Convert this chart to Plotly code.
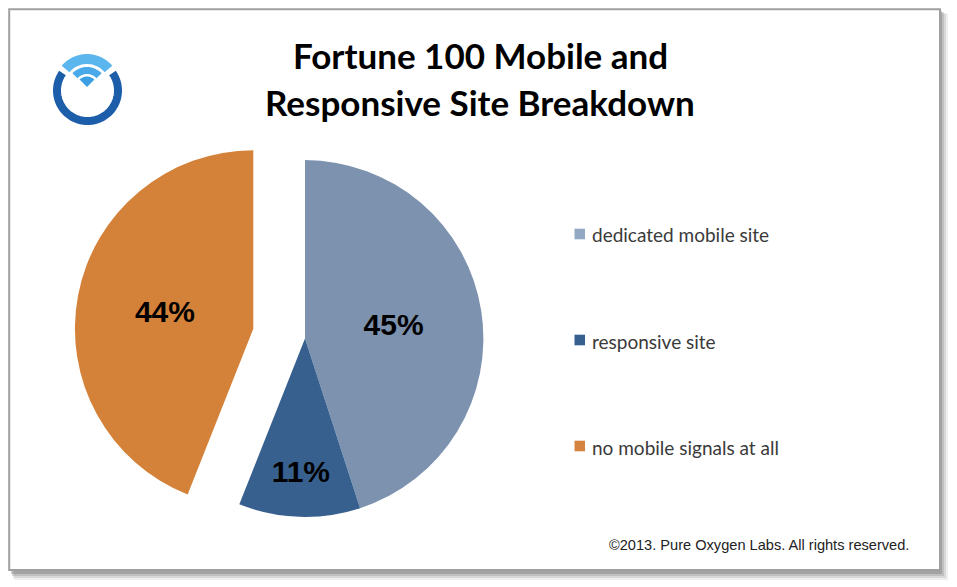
import math
import plotly.graph_objects as go

# ---- data ----
labels = ["dedicated mobile site", "responsive site", "no mobile signals at all"]
values = [45, 11, 44]
pulls = [0, 0, 0.295]
slice_colors = ["#7c92ae", "#37608f", "#d4823a"]
legend_colors = ["#93a8c3", "#37608f", "#d4843f"]
title_lines = ["Fortune 100 Mobile and", "Responsive Site Breakdown"]
copyright_text = "©2013. Pure Oxygen Labs. All rights reserved."

W, H = 957, 587
OFF = 8  # page body margin offset


def px(x):
    return (x - OFF) / W


def py(y):
    return 1 - (y - OFF) / H


def P(x, y):
    return f"{px(x):.5f},{py(y):.5f}"


fig = go.Figure()
fig.add_trace(go.Pie(
    labels=labels, values=values, pull=pulls, sort=False,
    direction="clockwise", rotation=0,
    marker=dict(colors=slice_colors, line=dict(width=0)),
    texttemplate="%{percent:.0%}", textposition="inside",
    insidetextorientation="horizontal",
    textfont=dict(family="Liberation Sans", size=30, color="#000000", weight="bold"),
    domain=dict(x=[px(74), px(536)], y=[py(569.5), py(107.5)]),
    showlegend=False, hoverinfo="label+percent",
))

shapes = []
# frame shadow
for i, op in enumerate([0.10, 0.14, 0.2, 0.28]):
    d = 8 - i * 2
    shapes.append(dict(type="rect", xref="paper", yref="paper",
                       x0=px(10 + d * 0.5), x1=px(940 + d), y0=py(572 + d), y1=py(10 + d * 0.5),
                       line=dict(width=0), fillcolor=f"rgba(90,90,90,{op})", layer="below"))
shapes.append(dict(type="rect", xref="paper", yref="paper",
                   x0=px(9.2), x1=px(940), y0=py(570), y1=py(9.2),
                   line=dict(width=2, color="#a0a0a0"), fillcolor="white", layer="below"))

# logo ring
cx, cy, r = 87.5, 90.5, 30.5
pts = []
for k in range(0, 121):
    a = math.radians(55 + (305 - 55) * k / 120)
    pts.append(P(cx + r * math.sin(a), cy - r * math.cos(a)))
shapes.append(dict(type="path", xref="paper", yref="paper",
                   path="M" + " L".join(pts), line=dict(width=8, color="#1d5eab")))


def band(ax, ay, r0, r1, ang, color):
    pts = []
    n = 30
    for k in range(n + 1):
        a = math.radians(-ang + 2 * ang * k / n)
        pts.append(P(ax + r1 * math.sin(a), ay - r1 * math.cos(a)))
    for k in range(n + 1):
        a = math.radians(ang - 2 * ang * k / n)
        pts.append(P(ax + r0 * math.sin(a), ay - r0 * math.cos(a)))
    return dict(type="path", xref="paper", yref="paper",
                path="M" + " L".join(pts) + " Z", line=dict(width=0), fillcolor=color)


shapes.append(band(87, 87, 23, 33, 50, "#5cb6ee"))
shapes.append(band(87, 87, 13, 20, 47, "#4aa9e8"))
shapes.append(band(87, 87, 0, 10.5, 45, "#3d9fe3"))

annotations = []
# title
for i, line in enumerate(title_lines):
    annotations.append(dict(text=f"<b>{line}</b>", xref="paper", yref="paper",
                            x=px(480), y=py(55 + 47 * i), xanchor="center", yanchor="middle",
                            showarrow=False,
                            font=dict(family="Lato", size=35, color="#000000")))

# legend
for i, (lab, col) in enumerate(zip(labels, legend_colors)):
    yc = 234 + 106 * i
    shapes.append(dict(type="rect", xref="paper", yref="paper",
                       x0=px(574.5), x1=px(585), y0=py(yc + 5.3), y1=py(yc - 5.3),
                       line=dict(width=0), fillcolor=col))
    annotations.append(dict(text=lab, xref="paper", yref="paper",
                            x=px(590), y=py(yc + 1), xanchor="left", yanchor="middle",
                            showarrow=False,
                            font=dict(family="Lato", size=19, color="#3a3a3a")))

annotations.append(dict(text=copyright_text, xref="paper", yref="paper",
                        x=px(911), y=py(545), xanchor="right", yanchor="middle",
                        showarrow=False,
                        font=dict(family="Liberation Sans", size=14.6, color="#222222")))

fig.update_layout(
    width=W, height=H,
    margin=dict(l=0, r=0, t=0, b=0),
    paper_bgcolor="white", plot_bgcolor="white",
    shapes=shapes, annotations=annotations,
)

fig.write_html("out.html")
